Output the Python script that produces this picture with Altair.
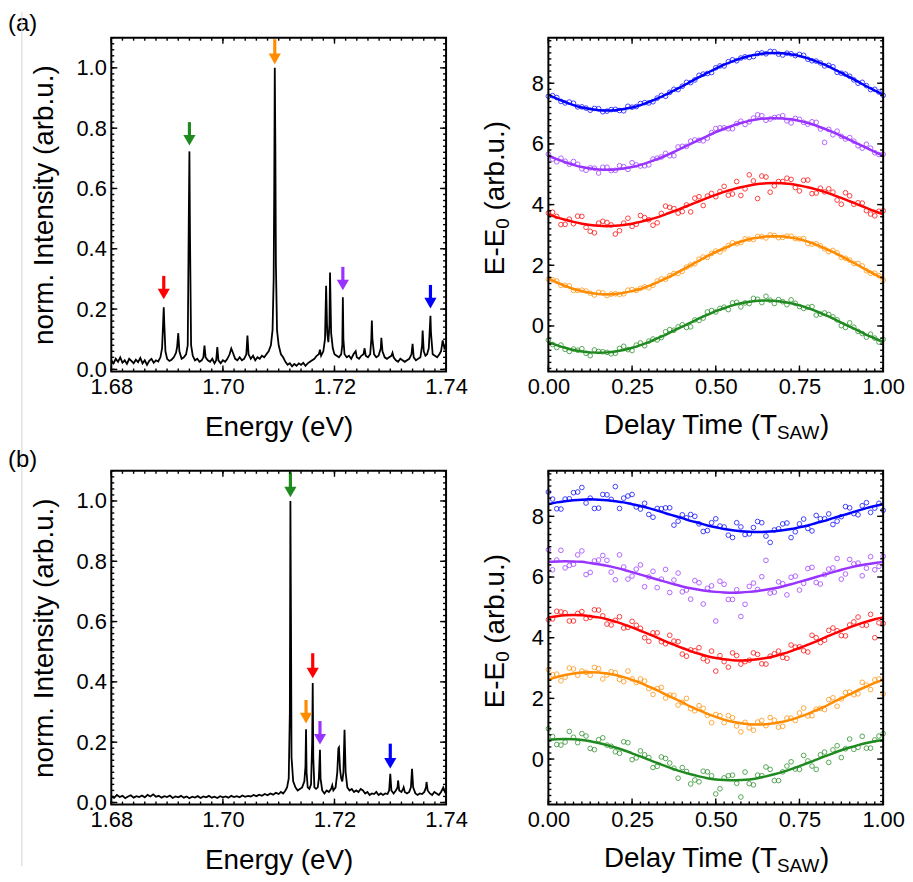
import altair as alt
import pandas as pd

FONT = "Liberation Sans"
COLORS = {"green": "#1f8a1f", "orange": "#ff8c00", "red": "#ff0000",
          "purple": "#9933ff", "blue": "#0000ff"}
SERIES = ["green", "orange", "red", "purple", "blue"]

panel_labels = ["(a)", "(b)"]

# ---------------- spectra (energy eV, normalised intensity) ----------------
spectrum_a = [
    (1.6800, 0.030), (1.6804, 0.020), (1.6808, 0.035), (1.6812, 0.025), (1.6816, 0.040),
    (1.6820, 0.022), (1.6824, 0.030), (1.6828, 0.018), (1.6832, 0.035), (1.6836, 0.028),
    (1.6840, 0.020), (1.6844, 0.032), (1.6848, 0.024), (1.6852, 0.038), (1.6856, 0.020),
    (1.6860, 0.030), (1.6864, 0.015), (1.6868, 0.028), (1.6872, 0.035), (1.6876, 0.022),
    (1.6880, 0.030), (1.6884, 0.026), (1.6888, 0.040), (1.6891, 0.070), (1.6893, 0.160),
    (1.6894, 0.206), (1.6895, 0.150), (1.6897, 0.060), (1.6900, 0.035), (1.6904, 0.028),
    (1.6908, 0.032), (1.6912, 0.040), (1.6916, 0.055), (1.6918, 0.075), (1.6920, 0.120),
    (1.6922, 0.060), (1.6926, 0.035), (1.6930, 0.040), (1.6934, 0.050), (1.6937, 0.080),
    (1.6939, 0.530), (1.6940, 0.723), (1.6941, 0.450), (1.6943, 0.080), (1.6946, 0.045),
    (1.6950, 0.030), (1.6954, 0.035), (1.6958, 0.025), (1.6962, 0.030), (1.6965, 0.040),
    (1.6967, 0.079), (1.6969, 0.040), (1.6973, 0.030), (1.6977, 0.025), (1.6981, 0.035),
    (1.6985, 0.020), (1.6988, 0.030), (1.6990, 0.074), (1.6992, 0.030), (1.6996, 0.020),
    (1.7000, 0.030), (1.7004, 0.025), (1.7008, 0.035), (1.7012, 0.050), (1.7015, 0.069),
    (1.7018, 0.055), (1.7022, 0.035), (1.7026, 0.030), (1.7030, 0.040), (1.7034, 0.030),
    (1.7038, 0.035), (1.7042, 0.050), (1.7044, 0.112), (1.7046, 0.050), (1.7050, 0.035),
    (1.7054, 0.045), (1.7058, 0.030), (1.7062, 0.040), (1.7066, 0.035), (1.7070, 0.045),
    (1.7074, 0.040), (1.7078, 0.050), (1.7082, 0.060), (1.7086, 0.080), (1.7089, 0.130),
    (1.7091, 0.300), (1.7092, 0.600), (1.7093, 1.000), (1.7094, 0.750), (1.7095, 0.350),
    (1.7097, 0.130), (1.7100, 0.080), (1.7104, 0.050), (1.7108, 0.040), (1.7112, 0.025),
    (1.7116, 0.015), (1.7120, 0.020), (1.7124, 0.010), (1.7128, 0.018), (1.7132, 0.012),
    (1.7136, 0.020), (1.7140, 0.015), (1.7144, 0.022), (1.7148, 0.012), (1.7152, 0.020),
    (1.7156, 0.025), (1.7160, 0.030), (1.7164, 0.035), (1.7168, 0.045), (1.7172, 0.050),
    (1.7174, 0.065), (1.7176, 0.045), (1.7180, 0.060), (1.7183, 0.100), (1.7185, 0.277),
    (1.7187, 0.120), (1.7189, 0.090), (1.7191, 0.150), (1.7192, 0.321), (1.7194, 0.120),
    (1.7197, 0.070), (1.7200, 0.050), (1.7204, 0.045), (1.7208, 0.040), (1.7212, 0.050),
    (1.7214, 0.080), (1.7215, 0.239), (1.7216, 0.100), (1.7218, 0.050), (1.7222, 0.040),
    (1.7226, 0.045), (1.7230, 0.035), (1.7234, 0.050), (1.7238, 0.060), (1.7240, 0.040),
    (1.7244, 0.035), (1.7248, 0.045), (1.7252, 0.050), (1.7254, 0.070), (1.7256, 0.045),
    (1.7260, 0.040), (1.7264, 0.050), (1.7266, 0.100), (1.7267, 0.162), (1.7268, 0.100),
    (1.7271, 0.050), (1.7275, 0.040), (1.7279, 0.045), (1.7283, 0.070), (1.7284, 0.105),
    (1.7286, 0.060), (1.7290, 0.040), (1.7294, 0.035), (1.7298, 0.040), (1.7302, 0.045),
    (1.7304, 0.055), (1.7306, 0.040), (1.7310, 0.030), (1.7314, 0.025), (1.7318, 0.035),
    (1.7322, 0.030), (1.7326, 0.025), (1.7330, 0.030), (1.7334, 0.035), (1.7338, 0.050),
    (1.7340, 0.085), (1.7342, 0.040), (1.7346, 0.030), (1.7350, 0.035), (1.7354, 0.040),
    (1.7357, 0.080), (1.7358, 0.129), (1.7360, 0.060), (1.7363, 0.045), (1.7366, 0.050),
    (1.7369, 0.070), (1.7371, 0.140), (1.7372, 0.178), (1.7373, 0.120), (1.7376, 0.050),
    (1.7380, 0.045), (1.7384, 0.040), (1.7388, 0.050), (1.7391, 0.060), (1.7394, 0.096),
    (1.7397, 0.070), (1.7400, 0.080),
]

spectrum_b = [
    (1.6800, 0.020), (1.6805, 0.015), (1.6810, 0.025), (1.6815, 0.018), (1.6820, 0.022),
    (1.6825, 0.014), (1.6830, 0.020), (1.6835, 0.024), (1.6840, 0.016), (1.6845, 0.021),
    (1.6850, 0.018), (1.6855, 0.023), (1.6860, 0.017), (1.6865, 0.025), (1.6870, 0.020),
    (1.6875, 0.027), (1.6880, 0.019), (1.6885, 0.022), (1.6890, 0.016), (1.6895, 0.021),
    (1.6900, 0.018), (1.6905, 0.023), (1.6910, 0.015), (1.6915, 0.020), (1.6920, 0.017),
    (1.6925, 0.022), (1.6930, 0.016), (1.6935, 0.020), (1.6940, 0.014), (1.6945, 0.019),
    (1.6950, 0.016), (1.6955, 0.021), (1.6960, 0.015), (1.6965, 0.020), (1.6970, 0.017),
    (1.6975, 0.022), (1.6980, 0.016), (1.6985, 0.019), (1.6990, 0.015), (1.6995, 0.021),
    (1.7000, 0.017), (1.7005, 0.020), (1.7010, 0.016), (1.7015, 0.022), (1.7020, 0.018),
    (1.7025, 0.021), (1.7030, 0.017), (1.7035, 0.023), (1.7040, 0.019), (1.7045, 0.022),
    (1.7050, 0.020), (1.7055, 0.025), (1.7060, 0.021), (1.7065, 0.026), (1.7070, 0.022),
    (1.7075, 0.028), (1.7080, 0.024), (1.7085, 0.030), (1.7090, 0.026), (1.7095, 0.032),
    (1.7100, 0.028), (1.7104, 0.035), (1.7108, 0.030), (1.7112, 0.040), (1.7115, 0.050),
    (1.7118, 0.080), (1.7120, 0.300), (1.7121, 1.000), (1.7122, 0.620), (1.7123, 0.150),
    (1.7126, 0.070), (1.7130, 0.050), (1.7134, 0.040), (1.7138, 0.045), (1.7142, 0.050),
    (1.7146, 0.070), (1.7148, 0.120), (1.7149, 0.243), (1.7150, 0.100), (1.7152, 0.050),
    (1.7155, 0.045), (1.7158, 0.060), (1.7160, 0.200), (1.7161, 0.396), (1.7162, 0.150),
    (1.7164, 0.050), (1.7167, 0.045), (1.7170, 0.050), (1.7172, 0.080), (1.7174, 0.175),
    (1.7175, 0.080), (1.7178, 0.040), (1.7182, 0.030), (1.7186, 0.040), (1.7190, 0.035),
    (1.7194, 0.045), (1.7196, 0.057), (1.7198, 0.040), (1.7202, 0.050), (1.7205, 0.100),
    (1.7207, 0.180), (1.7208, 0.183), (1.7210, 0.110), (1.7212, 0.080), (1.7214, 0.070),
    (1.7216, 0.100), (1.7218, 0.241), (1.7220, 0.100), (1.7223, 0.050), (1.7227, 0.040),
    (1.7231, 0.045), (1.7235, 0.035), (1.7239, 0.040), (1.7243, 0.035), (1.7247, 0.045),
    (1.7251, 0.040), (1.7255, 0.030), (1.7259, 0.035), (1.7263, 0.025), (1.7267, 0.030),
    (1.7271, 0.028), (1.7275, 0.035), (1.7279, 0.025), (1.7283, 0.030), (1.7287, 0.025),
    (1.7291, 0.030), (1.7295, 0.028), (1.7298, 0.040), (1.7300, 0.095), (1.7302, 0.040),
    (1.7306, 0.030), (1.7310, 0.040), (1.7313, 0.050), (1.7314, 0.073), (1.7316, 0.040),
    (1.7320, 0.035), (1.7323, 0.045), (1.7324, 0.050), (1.7326, 0.035), (1.7330, 0.030),
    (1.7334, 0.035), (1.7337, 0.050), (1.7339, 0.112), (1.7341, 0.050), (1.7345, 0.030),
    (1.7349, 0.025), (1.7353, 0.030), (1.7357, 0.028), (1.7361, 0.035), (1.7364, 0.050),
    (1.7365, 0.068), (1.7367, 0.040), (1.7371, 0.030), (1.7375, 0.025), (1.7379, 0.035),
    (1.7383, 0.030), (1.7387, 0.025), (1.7391, 0.035), (1.7395, 0.050), (1.7398, 0.035),
    (1.7400, 0.040),
]

# ---------------- arrows marking the lines ----------------
arrow_a_energy = [1.6894, 1.6940, 1.7093, 1.7215, 1.7372]
arrow_a_tip = [0.23, 0.74, 1.01, 0.26, 0.20]
arrow_a_top = [0.31, 0.82, 1.095, 0.34, 0.28]
arrow_a_color = ["red", "green", "orange", "purple", "blue"]

arrow_b_energy = [1.7121, 1.7149, 1.7161, 1.7174, 1.7300]
arrow_b_tip = [1.01, 0.26, 0.41, 0.19, 0.11]
arrow_b_top = [1.095, 0.34, 0.495, 0.27, 0.195]
arrow_b_color = ["green", "orange", "red", "purple", "blue"]

# ---------------- delay scans ----------------
delay = [0.000, 0.025, 0.050, 0.075, 0.100, 0.125, 0.150, 0.175, 0.200, 0.225,
         0.250, 0.275, 0.300, 0.325, 0.350, 0.375, 0.400, 0.425, 0.450, 0.475,
         0.500, 0.525, 0.550, 0.575, 0.600, 0.625, 0.650, 0.675, 0.700, 0.725,
         0.750, 0.775, 0.800, 0.825, 0.850, 0.875, 0.900, 0.925, 0.950, 0.975, 1.000]
delay_mid = [0.0125, 0.0375, 0.0625, 0.0875, 0.1125, 0.1375, 0.1625, 0.1875, 0.2125, 0.2375,
             0.2625, 0.2875, 0.3125, 0.3375, 0.3625, 0.3875, 0.4125, 0.4375, 0.4625, 0.4875,
             0.5125, 0.5375, 0.5625, 0.5875, 0.6125, 0.6375, 0.6625, 0.6875, 0.7125, 0.7375,
             0.7625, 0.7875, 0.8125, 0.8375, 0.8625, 0.8875, 0.9125, 0.9375, 0.9625, 0.9875]

fit_a = {
    "blue": [7.62, 7.49, 7.38, 7.28, 7.20, 7.15, 7.11, 7.10, 7.11, 7.15, 7.20, 7.28, 7.38, 7.49,
             7.62, 7.76, 7.90, 8.05, 8.20, 8.34, 8.48, 8.61, 8.72, 8.82, 8.90, 8.95, 8.99, 9.00,
             8.99, 8.95, 8.90, 8.82, 8.72, 8.61, 8.48, 8.34, 8.20, 8.05, 7.90, 7.76, 7.62],
    "purple": [5.61, 5.50, 5.40, 5.31, 5.24, 5.19, 5.16, 5.15, 5.16, 5.19, 5.24, 5.31, 5.40, 5.50,
               5.61, 5.74, 5.87, 6.00, 6.13, 6.26, 6.39, 6.50, 6.60, 6.69, 6.76, 6.81, 6.84, 6.85,
               6.84, 6.81, 6.76, 6.69, 6.60, 6.50, 6.39, 6.26, 6.13, 6.00, 5.87, 5.74, 5.61],
    "red": [3.68, 3.58, 3.50, 3.43, 3.37, 3.33, 3.30, 3.29, 3.30, 3.33, 3.37, 3.43, 3.50, 3.58,
            3.68, 3.78, 3.89, 4.00, 4.11, 4.22, 4.32, 4.42, 4.50, 4.57, 4.63, 4.68, 4.70, 4.71,
            4.70, 4.68, 4.63, 4.57, 4.50, 4.42, 4.32, 4.22, 4.11, 4.00, 3.89, 3.78, 3.68],
    "orange": [1.56, 1.44, 1.32, 1.22, 1.15, 1.09, 1.05, 1.04, 1.05, 1.09, 1.15, 1.22, 1.32, 1.44,
               1.56, 1.70, 1.85, 2.00, 2.15, 2.30, 2.44, 2.56, 2.68, 2.78, 2.86, 2.91, 2.95, 2.96,
               2.95, 2.91, 2.86, 2.78, 2.68, 2.56, 2.44, 2.30, 2.15, 2.00, 1.85, 1.70, 1.56],
    "green": [-0.53, -0.63, -0.72, -0.79, -0.84, -0.87, -0.88, -0.87, -0.84, -0.79, -0.72, -0.63,
              -0.53, -0.41, -0.29, -0.15, -0.02, 0.11, 0.25, 0.37, 0.49, 0.59, 0.68, 0.75, 0.80,
              0.83, 0.84, 0.83, 0.80, 0.75, 0.68, 0.59, 0.49, 0.37, 0.25, 0.11, -0.02, -0.15,
              -0.29, -0.41, -0.53],
}
points_a = {
    "blue": [7.57, 7.53, 7.35, 7.34, 7.22, 7.11, 7.16, 7.08, 7.14, 7.09, 7.21, 7.33, 7.35, 7.51,
             7.57, 7.80, 7.90, 8.02, 8.26, 8.32, 8.51, 8.57, 8.77, 8.83, 8.85, 8.98, 8.97, 9.04,
             8.93, 8.97, 8.95, 8.79, 8.73, 8.57, 8.54, 8.33, 8.23, 8.00, 7.92, 7.80, 7.60],
    "purple": [5.66, 5.41, 5.43, 5.42, 5.18, 5.21, 5.04, 5.23, 5.13, 5.25, 5.38, 5.27, 5.31, 5.53,
               5.69, 5.61, 5.92, 6.09, 6.12, 6.19, 6.51, 6.53, 6.50, 6.75, 6.73, 6.96, 6.78, 6.87,
               6.93, 6.69, 6.81, 6.65, 6.71, 6.05, 6.30, 6.25, 6.21, 5.94, 5.99, 5.71, 5.66],
    "red": [3.72, 3.61, 3.35, 3.37, 3.61, 3.12, 3.39, 3.41, 3.03, 3.39, 3.28, 3.64, 3.50, 3.40,
            3.95, 3.87, 3.77, 3.76, 4.26, 4.28, 4.26, 4.60, 4.35, 4.30, 4.98, 4.20, 4.91, 4.62,
            4.76, 4.83, 4.45, 4.81, 4.38, 4.42, 4.41, 4.01, 4.29, 4.06, 3.80, 3.63, 3.80],
    "orange": [1.54, 1.48, 1.34, 1.17, 1.18, 1.08, 1.11, 1.00, 1.06, 1.06, 1.20, 1.24, 1.26, 1.48,
               1.54, 1.73, 1.80, 2.01, 2.20, 2.26, 2.47, 2.54, 2.74, 2.75, 2.86, 2.95, 2.90, 2.98,
               2.92, 2.96, 2.87, 2.72, 2.71, 2.54, 2.49, 2.26, 2.17, 2.06, 1.82, 1.74, 1.51],
    "green": [-0.47, -0.71, -0.77, -0.76, -0.75, -0.98, -0.84, -0.87, -0.90, -0.67, -0.81, -0.56,
              -0.50, -0.46, -0.19, -0.14, 0.04, -0.03, 0.18, 0.46, 0.46, 0.62, 0.76, 0.63, 0.74,
              0.88, 0.98, 0.74, 0.80, 0.86, 0.64, 0.62, 0.36, 0.43, 0.30, 0.01, 0.10, -0.18,
              -0.37, -0.40, -0.44],
}
points_a_mid = {
    "blue": [7.59, 7.40, 7.38, 7.22, 7.18, 7.17, 7.06, 7.13, 7.10, 7.24, 7.23, 7.36, 7.39, 7.60,
             7.70, 7.79, 8.03, 8.11, 8.30, 8.35, 8.57, 8.71, 8.74, 8.87, 8.88, 9.00, 9.05, 8.96,
             8.99, 8.91, 8.92, 8.74, 8.67, 8.59, 8.36, 8.30, 8.11, 8.03, 7.79, 7.71],
    "purple": [5.50, 5.53, 5.33, 5.33, 5.13, 5.20, 5.23, 5.12, 5.28, 5.16, 5.31, 5.28, 5.50, 5.57,
               5.61, 5.90, 5.92, 6.13, 6.10, 6.37, 6.53, 6.50, 6.67, 6.64, 6.85, 6.93, 6.82, 6.89,
               6.76, 6.84, 6.71, 6.73, 6.49, 6.48, 6.42, 6.16, 6.09, 5.86, 5.86, 5.65],
    "red": [3.75, 3.34, 3.52, 3.62, 3.25, 3.07, 3.45, 3.33, 3.14, 3.55, 3.35, 3.57, 3.32, 3.71,
            3.91, 3.72, 3.99, 4.21, 3.97, 4.37, 4.43, 4.31, 4.76, 4.52, 4.78, 4.94, 4.41, 4.76,
            4.87, 4.56, 4.80, 4.36, 4.54, 4.52, 4.15, 4.39, 4.01, 4.05, 3.69, 3.78],
    "orange": [1.52, 1.34, 1.32, 1.17, 1.15, 1.02, 1.09, 1.05, 1.04, 1.18, 1.17, 1.29, 1.34, 1.55,
               1.66, 1.73, 1.94, 2.05, 2.27, 2.39, 2.44, 2.65, 2.71, 2.87, 2.85, 2.94, 3.00, 2.91,
               2.96, 2.88, 2.88, 2.70, 2.64, 2.45, 2.41, 2.23, 2.06, 1.98, 1.74, 1.66],
    "green": [-0.61, -0.63, -0.84, -0.80, -0.90, -0.79, -0.85, -0.92, -0.74, -0.78, -0.63, -0.65,
              -0.43, -0.38, -0.12, -0.03, -0.05, 0.20, 0.26, 0.51, 0.58, 0.54, 0.78, 0.76, 0.91,
              0.77, 0.85, 0.87, 0.70, 0.75, 0.58, 0.64, 0.39, 0.38, 0.20, -0.05, -0.04, -0.25,
              -0.27, -0.53],
}
fit_b = {
    "blue": [8.40, 8.46, 8.50, 8.53, 8.55, 8.56, 8.55, 8.53, 8.50, 8.46, 8.40, 8.34, 8.27, 8.19,
             8.10, 8.02, 7.94, 7.85, 7.78, 7.70, 7.64, 7.58, 7.54, 7.51, 7.49, 7.48, 7.49, 7.51,
             7.54, 7.58, 7.64, 7.70, 7.78, 7.85, 7.94, 8.02, 8.10, 8.19, 8.27, 8.34, 8.40],
    "purple": [6.50, 6.51, 6.52, 6.51, 6.50, 6.46, 6.42, 6.37, 6.31, 6.24, 6.16, 6.08, 6.00, 5.92,
               5.84, 5.76, 5.69, 5.63, 5.58, 5.54, 5.51, 5.49, 5.48, 5.49, 5.51, 5.54, 5.58, 5.63,
               5.69, 5.76, 5.84, 5.92, 6.00, 6.08, 6.16, 6.24, 6.31, 6.37, 6.42, 6.46, 6.50],
    "red": [4.67, 4.71, 4.74, 4.75, 4.74, 4.71, 4.67, 4.61, 4.53, 4.44, 4.34, 4.23, 4.12, 4.00,
            3.88, 3.77, 3.66, 3.56, 3.47, 3.39, 3.33, 3.29, 3.26, 3.25, 3.26, 3.29, 3.33, 3.39,
            3.47, 3.56, 3.66, 3.77, 3.88, 4.00, 4.12, 4.23, 4.34, 4.44, 4.53, 4.61, 4.67],
    "orange": [2.61, 2.70, 2.77, 2.82, 2.85, 2.86, 2.85, 2.82, 2.77, 2.70, 2.61, 2.51, 2.39, 2.27,
               2.13, 2.00, 1.87, 1.73, 1.61, 1.49, 1.39, 1.30, 1.23, 1.18, 1.15, 1.14, 1.15, 1.18,
               1.23, 1.30, 1.39, 1.49, 1.61, 1.73, 1.87, 2.00, 2.13, 2.27, 2.39, 2.51, 2.61],
    "green": [0.63, 0.65, 0.66, 0.65, 0.63, 0.59, 0.53, 0.46, 0.38, 0.29, 0.19, 0.09, -0.02,
              -0.13, -0.23, -0.33, -0.42, -0.50, -0.57, -0.63, -0.67, -0.69, -0.70, -0.69, -0.67,
              -0.63, -0.57, -0.50, -0.42, -0.33, -0.23, -0.13, -0.02, 0.09, 0.19, 0.29, 0.38,
              0.46, 0.53, 0.59, 0.63],
}
points_b = {
    "blue": [8.80, 8.25, 8.57, 8.78, 8.95, 8.60, 8.27, 8.71, 8.98, 8.60, 8.72, 8.24, 8.06, 8.26,
             8.28, 7.71, 8.05, 8.06, 7.75, 7.53, 7.92, 7.65, 7.30, 7.65, 7.42, 7.83, 7.35, 7.55,
             7.75, 7.30, 7.75, 7.60, 8.03, 7.92, 7.73, 7.99, 8.28, 8.05, 8.45, 8.27, 8.20],
    "purple": [6.90, 6.56, 6.30, 6.42, 6.86, 6.15, 6.56, 6.55, 5.91, 6.33, 6.03, 6.40, 6.00, 5.65,
               6.25, 5.90, 5.51, 5.27, 5.81, 5.63, 4.55, 5.76, 5.26, 4.70, 5.69, 5.59, 6.55, 5.50,
               5.78, 5.99, 5.57, 6.28, 5.82, 6.08, 6.30, 5.93, 6.58, 6.46, 6.29, 6.24, 6.68],
    "red": [4.59, 4.87, 4.82, 4.55, 4.86, 4.67, 4.91, 4.45, 4.57, 4.32, 4.54, 4.31, 3.88, 4.16,
            3.80, 3.89, 3.46, 3.60, 3.67, 3.23, 2.90, 3.21, 3.50, 3.13, 3.26, 3.45, 3.13, 3.47,
            3.35, 3.76, 3.70, 3.53, 4.00, 3.92, 4.32, 4.07, 4.42, 4.68, 4.41, 4.00, 4.47],
    "orange": [2.95, 2.80, 2.70, 2.97, 2.90, 2.76, 2.98, 2.77, 2.85, 2.55, 2.64, 2.64, 2.32, 2.32,
               2.01, 2.10, 1.87, 1.66, 1.76, 1.44, 1.47, 1.20, 1.36, 0.90, 1.03, 1.22, 1.10, 1.28,
               1.08, 1.35, 1.52, 1.42, 1.64, 1.63, 2.02, 1.98, 2.21, 2.15, 2.44, 2.61, 2.15],
    "green": [1.00, 0.48, 0.56, 0.72, 0.84, 0.35, 0.64, 0.46, 0.24, 0.57, -0.02, 0.27, 0.05,
              -0.24, 0.02, -0.30, -0.28, -0.82, -0.75, -0.42, -1.15, -0.62, -0.53, -1.25, -0.81,
              -0.53, -0.26, -0.71, -0.42, -0.09, -0.34, -0.06, -0.34, 0.23, 0.30, 0.05, 0.66,
              0.39, 0.36, 0.63, 0.84],
}
points_b_mid = {
    "blue": [8.57, 8.24, 8.58, 8.80, 8.44, 8.26, 8.72, 8.56, 8.26, 8.67, 8.31, 8.43, 7.97, 8.25,
             8.28, 7.84, 7.95, 8.00, 7.50, 7.79, 7.68, 7.38, 7.79, 7.40, 7.63, 7.79, 7.14, 7.59,
             7.78, 7.49, 7.91, 7.52, 7.92, 8.08, 7.84, 8.32, 8.09, 8.35, 8.13, 8.43],
    "purple": [6.24, 6.88, 6.38, 6.73, 6.08, 6.53, 6.71, 6.16, 6.73, 5.93, 6.26, 5.68, 6.19, 5.93,
               5.49, 6.13, 5.57, 5.88, 5.11, 5.71, 5.86, 5.26, 5.58, 5.10, 5.80, 6.01, 5.47, 5.84,
               5.41, 6.03, 5.79, 6.32, 5.77, 6.26, 6.61, 6.10, 6.43, 6.04, 6.67, 6.35],
    "red": [4.62, 4.85, 4.55, 4.80, 4.63, 4.92, 4.72, 4.42, 4.69, 4.34, 4.41, 4.00, 4.16, 3.87,
            4.08, 3.87, 3.39, 3.57, 3.31, 3.56, 3.41, 3.03, 3.41, 3.21, 3.50, 3.14, 3.39, 3.56,
            3.32, 3.69, 3.57, 4.08, 3.84, 4.24, 4.23, 4.06, 4.52, 4.41, 4.77, 4.49],
    "orange": [2.78, 2.58, 3.00, 2.76, 2.86, 3.02, 2.64, 2.88, 2.62, 2.90, 2.52, 2.57, 2.13, 2.36,
               2.11, 1.78, 2.00, 1.59, 1.67, 1.20, 1.43, 1.43, 1.09, 1.21, 0.95, 1.27, 1.37, 1.05,
               1.35, 1.27, 1.68, 1.43, 1.67, 1.96, 1.74, 2.19, 2.12, 2.53, 2.29, 2.64],
    "green": [0.74, 0.46, 0.91, 0.54, 0.76, 0.31, 0.70, 0.42, 0.19, 0.54, 0.04, 0.14, -0.28, 0.07,
              -0.13, -0.63, -0.41, -0.69, -0.40, -0.55, -0.98, -0.55, -0.80, -0.43, -0.85, -0.55,
              -0.34, -0.71, -0.23, -0.33, 0.12, -0.23, 0.14, -0.11, 0.44, 0.34, 0.32, 0.75, 0.36,
              0.76],
}

# ---------------- axis ticks ----------------
x_major_left = [1.68, 1.70, 1.72, 1.74]
y_major_left = [0.0, 0.2, 0.4, 0.6, 0.8, 1.0]
x_major_right = [0.0, 0.25, 0.5, 0.75, 1.0]
y_major_right = [0, 2, 4, 6, 8]
x_minor_left = [round(1.68 + 0.002 * i, 4) for i in range(31)]
y_minor_left = [round(0.02 * i, 2) for i in range(56)]
x_minor_right = [round(0.025 * i, 3) for i in range(41)]
y_minor_right = [round(-1.4 + 0.2 * i, 1) for i in range(55)]

W, H = 337, 336
LABEL_SIZE = 22
TITLE_SIZE = 28
SUB_SIZE = 19
MAJOR, MINOR = 6, 3


def txt(s, size, **kw):
    """A single piece of title text placed in panel pixel space."""
    return alt.Chart(pd.DataFrame({"txt": [s]})).mark_text(
        fontSize=size, font=FONT, color="black", **kw)


def frame_and_ticks(sx, sy, xmaj, xmin, ymaj, ymin):
    """Inward ticks on all four sides plus the black box, drawn via the panel scales."""
    layers = []
    for vals, size in [(xmaj, MAJOR), (xmin, MINOR)]:
        d = pd.DataFrame({"v": vals})
        for y0, y1 in [(H, H - size), (0, size)]:
            layers.append(alt.Chart(d).mark_rule(color="black", strokeWidth=1.4).encode(
                x=alt.X("v:Q", scale=sx, axis=None), y=alt.value(y0), y2=alt.value(y1)))
    for vals, size in [(ymaj, MAJOR), (ymin, MINOR)]:
        d = pd.DataFrame({"v": vals})
        for x0, x1 in [(0, size), (W, W - size)]:
            layers.append(alt.Chart(d).mark_rule(color="black", strokeWidth=1.4).encode(
                y=alt.Y("v:Q", scale=sy, axis=None), x=alt.value(x0), x2=alt.value(x1)))
    box = alt.Chart(pd.DataFrame({"k": [0]})).mark_rect(
        fillOpacity=0, stroke="black", strokeWidth=2).encode(
        x=alt.value(0), x2=alt.value(W), y=alt.value(0), y2=alt.value(H))
    layers.append(box)
    return layers


def spectrum_panel(spec, a_e, a_tip, a_top, a_col, label, label_y, with_line):
    sx = alt.Scale(domain=[1.68, 1.74], nice=False, zero=False)
    sy = alt.Scale(domain=[-0.007, 1.1], nice=False, zero=False)
    df = pd.DataFrame(spec, columns=["E", "I"])
    arr = pd.DataFrame({"E": a_e, "tip": a_tip, "top": a_top,
                        "c": [COLORS[c] for c in a_col]})
    line = alt.Chart(df).mark_line(color="black", strokeWidth=1.8).encode(
        x=alt.X("E:Q", scale=sx, axis=alt.Axis(
            orient="bottom", values=x_major_left, format=".2f", ticks=False, domain=False,
            grid=False, labelFlush=False, labelPadding=5, title="Energy (eV)",
            titlePadding=16)),
        y=alt.Y("I:Q", scale=sy, axis=alt.Axis(
            orient="left", values=y_major_left, format=".1f", ticks=False, domain=False,
            grid=False, labelPadding=5, title="norm. Intensity (arb.u.)", titlePadding=18)),
    )
    shafts = alt.Chart(arr).mark_rule(strokeWidth=3.2, y2Offset=-7).encode(
        x=alt.X("E:Q", scale=sx, axis=None),
        y=alt.Y("top:Q", scale=sy, axis=None),
        y2="tip:Q",
        color=alt.Color("c:N", scale=None),
    )
    heads = alt.Chart(arr).mark_point(shape="triangle-down", filled=True, size=150,
                                      opacity=1, strokeWidth=0, yOffset=-6).encode(
        x=alt.X("E:Q", scale=sx, axis=None),
        y=alt.Y("tip:Q", scale=sy, axis=None),
        color=alt.Color("c:N", scale=None),
    )
    lab = txt(label, 24, align="left", baseline="top").encode(
        x=alt.value(-104), y=alt.value(label_y), text="txt:N")
    layers = [line, shafts, heads, lab]
    if with_line:
        border = alt.Chart(pd.DataFrame({"k": [0]})).mark_rule(
            color="#d4d4d4", strokeWidth=1).encode(
            x=alt.value(-90), y=alt.value(-26), y2=alt.value(834))
        layers.append(border)
    layers += frame_and_ticks(sx, sy, x_major_left, x_minor_left, y_major_left, y_minor_left)
    return alt.layer(*layers).resolve_axis(x="independent", y="independent").properties(
        width=W, height=H)


def delay_panel(fits, pts, pts_mid):
    sx = alt.Scale(domain=[0, 1], nice=False, zero=False)
    sy = alt.Scale(domain=[-1.5, 9.5], nice=False, zero=False)
    cscale = alt.Scale(domain=SERIES, range=[COLORS[s] for s in SERIES])
    fit_rows, pt_rows = [], []
    for s in SERIES:
        f = pd.DataFrame({"t": delay, "v": fits[s]})
        f["s"] = s
        fit_rows.append(f)
        p = pd.DataFrame({"t": delay, "v": pts[s]})
        p["s"] = s
        pt_rows.append(p)
        pm = pd.DataFrame({"t": delay_mid, "v": pts_mid[s]})
        pm["s"] = s
        pt_rows.append(pm)
    dfit = pd.concat(fit_rows, ignore_index=True)
    dpts = pd.concat(pt_rows, ignore_index=True)
    lines = alt.Chart(dfit).mark_line(strokeWidth=2.5, interpolate="monotone").encode(
        x=alt.X("t:Q", scale=sx, axis=alt.Axis(
            orient="bottom", values=x_major_right, format=".2f", ticks=False, domain=False,
            grid=False, labelFlush=False, labelPadding=5, title=None)),
        y=alt.Y("v:Q", scale=sy, axis=alt.Axis(
            orient="left", values=y_major_right, format="d", ticks=False, domain=False,
            grid=False, labelPadding=5, title=None)),
        color=alt.Color("s:N", scale=cscale, legend=None),
    )
    points = alt.Chart(dpts).mark_point(size=22, strokeWidth=1, filled=False,
                                        opacity=0.75).encode(
        x=alt.X("t:Q", scale=sx, axis=None),
        y=alt.Y("v:Q", scale=sy, axis=None),
        color=alt.Color("s:N", scale=cscale, legend=None),
    )
    # x title with subscript: "Delay Time (T" + "SAW" + ")"
    main_w = 6.278 * TITLE_SIZE
    sub_w = 2.278 * SUB_SIZE
    par_w = 0.333 * TITLE_SIZE
    start = W / 2 - (main_w + sub_w + par_w) / 2
    base_y = H + 63
    x_parts = [
        txt("Delay Time (T", TITLE_SIZE, align="right", baseline="alphabetic").encode(
            x=alt.value(start + main_w), y=alt.value(base_y), text="txt:N"),
        txt("SAW", SUB_SIZE, align="left", baseline="alphabetic").encode(
            x=alt.value(start + main_w), y=alt.value(base_y + 5), text="txt:N"),
        txt(")", TITLE_SIZE, align="left", baseline="alphabetic").encode(
            x=alt.value(start + main_w + sub_w), y=alt.value(base_y), text="txt:N"),
    ]
    # y title with subscript, rotated: "E-E" + "0" + " (arb.u.)"
    ee_w = 1.667 * TITLE_SIZE
    zero_w = 0.556 * SUB_SIZE
    space_w = 0.278 * TITLE_SIZE
    y_start = 239
    y_base = -45
    y_parts = [
        txt("E-E", TITLE_SIZE, align="left", baseline="alphabetic", angle=270).encode(
            x=alt.value(y_base), y=alt.value(y_start), text="txt:N"),
        txt("0", SUB_SIZE, align="left", baseline="alphabetic", angle=270).encode(
            x=alt.value(y_base + 5), y=alt.value(y_start - ee_w), text="txt:N"),
        txt("(arb.u.)", TITLE_SIZE, align="left", baseline="alphabetic", angle=270).encode(
            x=alt.value(y_base), y=alt.value(y_start - ee_w - zero_w - space_w),
            text="txt:N"),
    ]
    layers = [lines, points] + x_parts + y_parts
    layers += frame_and_ticks(sx, sy, x_major_right, x_minor_right, y_major_right,
                              y_minor_right)
    return alt.layer(*layers).resolve_axis(x="independent", y="independent").properties(
        width=W, height=H)


a_left = spectrum_panel(spectrum_a, arrow_a_energy, arrow_a_tip, arrow_a_top, arrow_a_color,
                        panel_labels[0], -26, True)
b_left = spectrum_panel(spectrum_b, arrow_b_energy, arrow_b_tip, arrow_b_top, arrow_b_color,
                        panel_labels[1], -23, False)
a_right = delay_panel(fit_a, points_a, points_a_mid)
b_right = delay_panel(fit_b, points_b, points_b_mid)

chart = alt.concat(
    a_left, a_right, b_left, b_right, columns=2,
    spacing={"row": 100, "column": 103}, bounds="flush",
).properties(padding=0).configure_view(
    strokeWidth=0
).configure_axis(
    labelFont=FONT, titleFont=FONT, labelFontSize=LABEL_SIZE, titleFontSize=TITLE_SIZE,
    labelColor="black", titleColor="black", titleFontWeight="normal",
)

chart.save("out.html", embed_options={"renderer": "svg", "actions": False})
